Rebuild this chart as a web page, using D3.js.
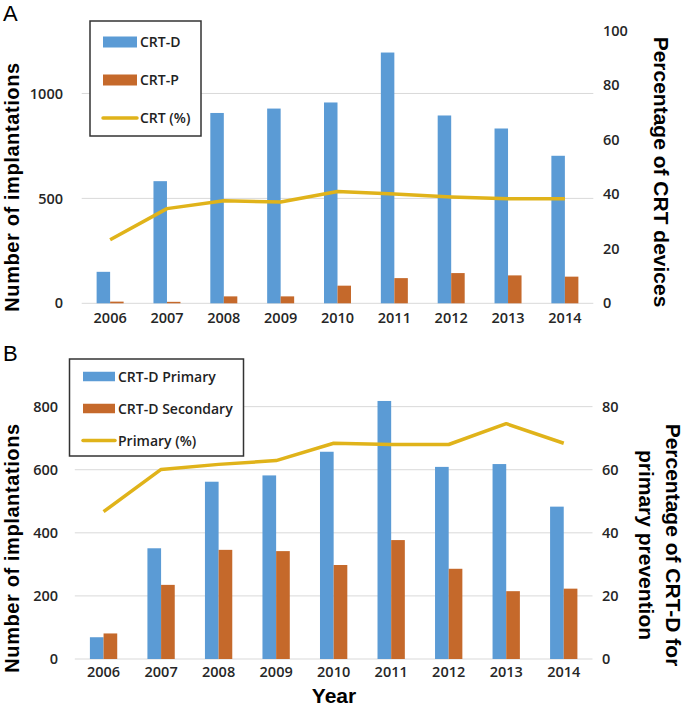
<!DOCTYPE html>
<html>
<head>
<meta charset="utf-8">
<script src="https://cdn.jsdelivr.net/npm/d3@7"></script>
<style>
  body { margin: 0; background: #fff; }
  svg { display: block; }
</style>
</head>
<body>
<svg id="chart" width="683" height="706"></svg>
<script>
// ---------- DATA ----------
const years = ["2006","2007","2008","2009","2010","2011","2012","2013","2014"];

// Panel A
const crtD = [150, 582, 907, 928, 957, 1195, 895, 833, 703];
const crtP = [8, 7, 33, 33, 84, 120, 144, 133, 127];
const crtPct = [23.3, 34.7, 37.6, 37.1, 41.0, 40.1, 39.0, 38.3, 38.3];
const leftTicksA = [0, 500, 1000];
const rightTicksA = [0, 20, 40, 60, 80, 100];
const seriesA = ["CRT-D", "CRT-P", "CRT (%)"];

// Panel B
const primary = [69, 351, 562, 582, 657, 818, 609, 618, 483];
const secondary = [81, 235, 346, 342, 298, 377, 286, 215, 223];
const primaryPct = [46.7, 60.1, 61.7, 62.9, 68.4, 68.0, 68.0, 74.6, 68.4];
const leftTicksB = [0, 200, 400, 600, 800];
const rightTicksB = [0, 20, 40, 60, 80];
const seriesB = ["CRT-D Primary", "CRT-D Secondary", "Primary (%)"];

// ---------- STYLE ----------
const BLUE = "#5b9bd5", ORANGE = "#c5692b", GOLD = "#e0b31a";
const GRID = "#d9d9d9", TICK = "#262626";
const tickFont = "'Open Sans', sans-serif";
const titleFont = "'Liberation Sans', Arial, sans-serif";

const svg = d3.select("#chart");

function panel(cfg) {
  const g = svg.append("g");
  const x = d3.scaleBand().domain(years).range([cfg.x0, cfg.x1]).paddingInner(0.525).paddingOuter(0.2625);
  const xs = d3.scaleBand().domain(["a","b"]).range([0, x.bandwidth()]);
  const yL = d3.scaleLinear().domain(cfg.leftDomain).range([cfg.yBottom, cfg.yTop]);
  const yR = d3.scaleLinear().domain(cfg.rightDomain).range([cfg.yBottom, cfg.yTop]);

  // gridlines
  g.selectAll("line.grid").data(cfg.leftTicks).join("line")
    .attr("x1", cfg.x0).attr("x2", cfg.x1)
    .attr("y1", d => yL(d)).attr("y2", d => yL(d))
    .attr("stroke", GRID).attr("stroke-width", 1);

  // left axis labels
  const axL = g.append("g").attr("transform", `translate(${cfg.leftLabelX},0)`)
    .call(d3.axisLeft(yL).tickValues(cfg.leftTicks).tickFormat(d3.format("d")).tickSize(0).tickPadding(0));
  axL.select(".domain").remove();
  axL.selectAll("text").attr("font-family", tickFont).attr("font-size", 14.5)
    .attr("font-weight", 600).attr("fill", TICK);

  // right axis labels
  const axR = g.append("g").attr("transform", `translate(${cfg.rightLabelX},0)`)
    .call(d3.axisRight(yR).tickValues(cfg.rightTicks).tickFormat(d3.format("d")).tickSize(0).tickPadding(0));
  axR.select(".domain").remove();
  axR.selectAll("text").attr("font-family", tickFont).attr("font-size", 14.5)
    .attr("font-weight", 600).attr("fill", TICK);

  // x axis labels
  const axX = g.append("g").attr("transform", `translate(0,${cfg.yBottom})`)
    .call(d3.axisBottom(x).tickSize(0).tickPadding(cfg.xPad));
  axX.select(".domain").remove();
  axX.selectAll("text").attr("font-family", tickFont).attr("font-size", 14.5)
    .attr("font-weight", 600).attr("fill", TICK);

  // bars
  const rows = years.map((yr, i) => ({yr, a: cfg.s1[i], b: cfg.s2[i], p: cfg.pct[i]}));
  g.selectAll("rect.s1").data(rows).join("rect")
    .attr("x", d => x(d.yr) + xs("a")).attr("width", xs.bandwidth())
    .attr("y", d => yL(d.a)).attr("height", d => yL(0) - yL(d.a))
    .attr("fill", BLUE);
  g.selectAll("rect.s2").data(rows).join("rect")
    .attr("x", d => x(d.yr) + xs("b")).attr("width", xs.bandwidth())
    .attr("y", d => yL(d.b)).attr("height", d => yL(0) - yL(d.b))
    .attr("fill", ORANGE);

  // line
  const line = d3.line().x(d => x(d.yr) + x.bandwidth() / 2).y(d => yR(d.p));
  g.append("path").datum(rows).attr("d", line)
    .attr("fill", "none").attr("stroke", GOLD).attr("stroke-width", 3.5)
    .attr("stroke-linejoin", "round");

  // legend
  const L = cfg.legend;
  g.append("rect").attr("x", L.x).attr("y", L.y).attr("width", L.w).attr("height", L.h)
    .attr("fill", "#fff").attr("stroke", "#333").attr("stroke-width", 1.5);
  const colors = [BLUE, ORANGE, GOLD];
  cfg.series.forEach((name, i) => {
    const cy = L.rows[i];
    if (i < 2) {
      g.append("rect").attr("x", L.sx).attr("y", cy - L.sh / 2).attr("width", L.sw).attr("height", L.sh)
        .attr("fill", colors[i]);
    } else {
      g.append("line").attr("x1", L.sx).attr("x2", L.sx + L.sw).attr("y1", cy).attr("y2", cy)
        .attr("stroke", colors[i]).attr("stroke-width", 3.5).attr("stroke-linecap", "round");
    }
    g.append("text").attr("x", L.sx + L.sw + 3).attr("y", cy).attr("dy", "0.36em")
      .attr("font-family", tickFont).attr("font-size", 14).attr("font-weight", 600)
      .attr("fill", "#222").text(name);
  });

  // panel letter
  g.append("text").attr("x", 3).attr("y", cfg.letterY).attr("font-family", titleFont)
    .attr("font-size", 22).attr("fill", "#000").text(cfg.letter);

  // left title
  g.append("text").attr("transform", `translate(19,${cfg.leftTitleY}) rotate(-90)`)
    .attr("text-anchor", "middle").attr("font-family", titleFont).attr("font-size", 20)
    .attr("letter-spacing", 0.6)
    .attr("font-weight", "bold").attr("fill", "#000").text("Number of implantations");

  // right title
  cfg.rightTitle.forEach((t, i) => {
    g.append("text").attr("transform", `translate(${cfg.rightTitleX[i]},${cfg.rightTitleY}) rotate(90)`)
      .attr("text-anchor", "middle").attr("dominant-baseline", "central")
      .attr("font-family", titleFont).attr("font-size", 21)
      .attr("font-weight", "bold").attr("fill", "#000").text(t);
  });
  return {x};
}

panel({
  letter: "A", letterY: 21,
  x0: 81.7, x1: 593.3, yBottom: 303.3, yTop: 30.5,
  leftDomain: [0, 1300], rightDomain: [0, 100],
  leftTicks: leftTicksA, rightTicks: rightTicksA,
  leftLabelX: 63, rightLabelX: 603, xPad: 9,
  s1: crtD, s2: crtP, pct: crtPct, series: seriesA,
  legend: {x: 90, y: 21, w: 111, h: 115, sx: 103, sw: 34, sh: 11, rows: [42, 80, 118]},
  leftTitleY: 187,
  rightTitle: ["Percentage of CRT devices"], rightTitleX: [661], rightTitleY: 172
});

panel({
  letter: "B", letterY: 361,
  x0: 74.8, x1: 592.5, yBottom: 659, yTop: 375.1,
  leftDomain: [0, 900], rightDomain: [0, 90],
  leftTicks: leftTicksB, rightTicks: rightTicksB,
  leftLabelX: 58, rightLabelX: 602, xPad: 8,
  s1: primary, s2: secondary, pct: primaryPct, series: seriesB,
  legend: {x: 69.5, y: 359, w: 174, h: 97, sx: 83, sw: 32, sh: 9.5, rows: [376.5, 408.5, 440.5]},
  leftTitleY: 548,
  rightTitle: ["Percentage of CRT-D for", "primary prevention"], rightTitleX: [673, 646], rightTitleY: 545
});

svg.append("text").attr("x", 334).attr("y", 703).attr("text-anchor", "middle")
  .attr("font-family", titleFont).attr("font-size", 21).attr("font-weight", "bold")
  .attr("fill", "#000").text("Year");
</script>
</body>
</html>
